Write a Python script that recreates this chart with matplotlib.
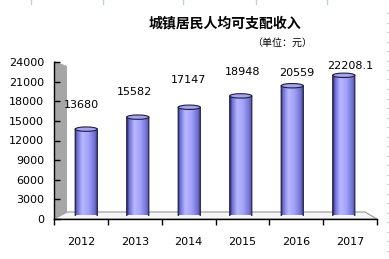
import numpy as np
import matplotlib
matplotlib.use("Agg")
import matplotlib.pyplot as plt
from matplotlib.patches import Polygon, Ellipse, PathPatch
from matplotlib.path import Path
from matplotlib.colors import LinearSegmentedColormap
from matplotlib.lines import Line2D

# Data
years = ["2012", "2013", "2014", "2015", "2016", "2017"]
income = [13680, 15582, 17147, 18948, 20559, 22208.1]
value_labels = ["13680", "15582", "17147", "18948", "20559", "22208.1"]
y_ticks = [0, 3000, 6000, 9000, 12000, 15000, 18000, 21000, 24000]

title = "城镇居民人均可支配收入"
unit = "（单位：元）"

# Layout (pixels, origin top-left)
W, H = 389, 259
DPI = 100
label_lift_pt = [17.6, 18.0, 19.4, 16.6, 8.3, 5.5]

fig = plt.figure(figsize=(W / DPI, H / DPI), dpi=DPI)
fig.patch.set_facecolor("white")


def px_box(left, top, right, bottom):
    return [left / W, 1 - bottom / H, (right - left) / W, (bottom - top) / H]


def fxy(x, y):
    return (x / W, 1 - y / H)


# Front plane: axis lines, ticks and labels
ax = fig.add_axes(px_box(54, 62, 377, 219))
ax.set_facecolor("none")
ax.set_xlim(-0.5, 5.5)
ax.set_ylim(0, 24000)
for s in ("top", "right"):
    ax.spines[s].set_visible(False)
for s in ("left", "bottom"):
    ax.spines[s].set_color("black")
    ax.spines[s].set_linewidth(1.0)
ax.set_yticks(y_ticks)
ax.set_yticklabels([str(v) for v in y_ticks])
ax.tick_params(axis="y", direction="in", length=4, width=1, pad=7,
               labelsize=8, colors="black")
ax.set_xticks(np.arange(len(years)))
ax.set_xticklabels(years)
ax.tick_params(axis="x", which="major", length=0, pad=13, labelsize=8)
ax.set_xticks(np.arange(len(years) + 1) - 0.5, minor=True)
ax.tick_params(axis="x", which="minor", direction="out", length=4, width=1)

for i, (v, txt) in enumerate(zip(income, value_labels)):
    ax.annotate(txt, xy=(i, v), xytext=(0, label_lift_pt[i]),
                textcoords="offset points", ha="center", va="center",
                fontsize=8, color="black")

# Side wall and floor
wall = Polygon([fxy(54, 61), fxy(67, 66), fxy(67, 212), fxy(54, 219)],
               closed=True, transform=fig.transFigure, facecolor="#A6A6A6",
               edgecolor="none", zorder=-1)
floor = Polygon([fxy(54, 219), fxy(67, 212), fxy(365, 212), fxy(377, 219)],
                closed=True, transform=fig.transFigure, facecolor="#F6F6F6",
                edgecolor="#A0A0A0", linewidth=0.9, zorder=-1)
fig.patches.extend([floor, wall])

# Mid-depth plane holding the cylinders
bx = fig.add_axes(px_box(60.5, 64, 369.5, 215.5))
bx.set_facecolor("none")
bx.set_xlim(-0.5, 5.5)
bx.set_ylim(0, 24000)
bx.axis("off")

bar_w = 0.43
bars = bx.bar(np.arange(len(years)), income, width=bar_w,
              color="none", edgecolor="none")

cyl = LinearSegmentedColormap.from_list("cyl", [
    (0.00, "#2E2E70"), (0.10, "#7070D8"), (0.32, "#B8B8FF"),
    (0.60, "#A0A0F8"), (0.85, "#7272D4"), (1.00, "#3A3A88")])
grad = np.linspace(0, 1, 128).reshape(1, -1)

cap_h = 2.2 / 151.5 * 24000  # half height of the elliptical ends

for b in bars:
    x0 = b.get_x()
    w = b.get_width()
    top = b.get_height()
    xc = x0 + w / 2
    t = np.linspace(0, np.pi, 30)
    arc_x = xc + (w / 2) * np.cos(t)
    arc_y = 0 - cap_h * np.sin(t)
    verts = [(x0, top), (x0 + w, top)] + list(zip(arc_x, arc_y)) + [(x0, top)]
    codes = [Path.MOVETO] + [Path.LINETO] * (len(verts) - 2) + [Path.CLOSEPOLY]
    body = Path(verts, codes)
    im = bx.imshow(grad, cmap=cyl, aspect="auto",
                   extent=(x0, x0 + w, -cap_h, top), zorder=2)
    clip = PathPatch(body, transform=bx.transData, facecolor="none",
                     edgecolor="none")
    bx.add_patch(clip)
    im.set_clip_path(clip)
    outline = PathPatch(body, facecolor="none", edgecolor="#1E1E40",
                        linewidth=0.8, zorder=3)
    bx.add_patch(outline)
    cap = Ellipse((xc, top), w, 2 * cap_h, facecolor="#A4A4EE",
                  edgecolor="#1E1E40", linewidth=0.8, zorder=4)
    bx.add_patch(cap)
bx.set_xlim(-0.5, 5.5)
bx.set_ylim(0, 24000)

# Titles
fig.text(225 / W, 1 - 23 / H, title, ha="center", va="center",
         fontsize=10, fontweight="bold",
         family=["Noto Sans CJK SC", "DejaVu Sans"])
fig.text(282.5 / W, 1 - 42.5 / H, unit, ha="center", va="center",
         fontsize=7.2, family=["Noto Sans CJK SC", "DejaVu Sans"])

# Page rules around the chart
for xp in (31, 103, 183, 256, 327):
    fig.add_artist(Line2D([xp / W, xp / W], [1, 1 - 4 / H],
                          transform=fig.transFigure, color="#C5CEDA", lw=1))
for yp in np.arange(13, 252, 9.5):
    fig.add_artist(Line2D([386.5 / W, 389 / W], [1 - yp / H, 1 - yp / H],
                          transform=fig.transFigure, color="#C8CCD4", lw=0.8))

fig.savefig("out.png", dpi=DPI, facecolor="white")
